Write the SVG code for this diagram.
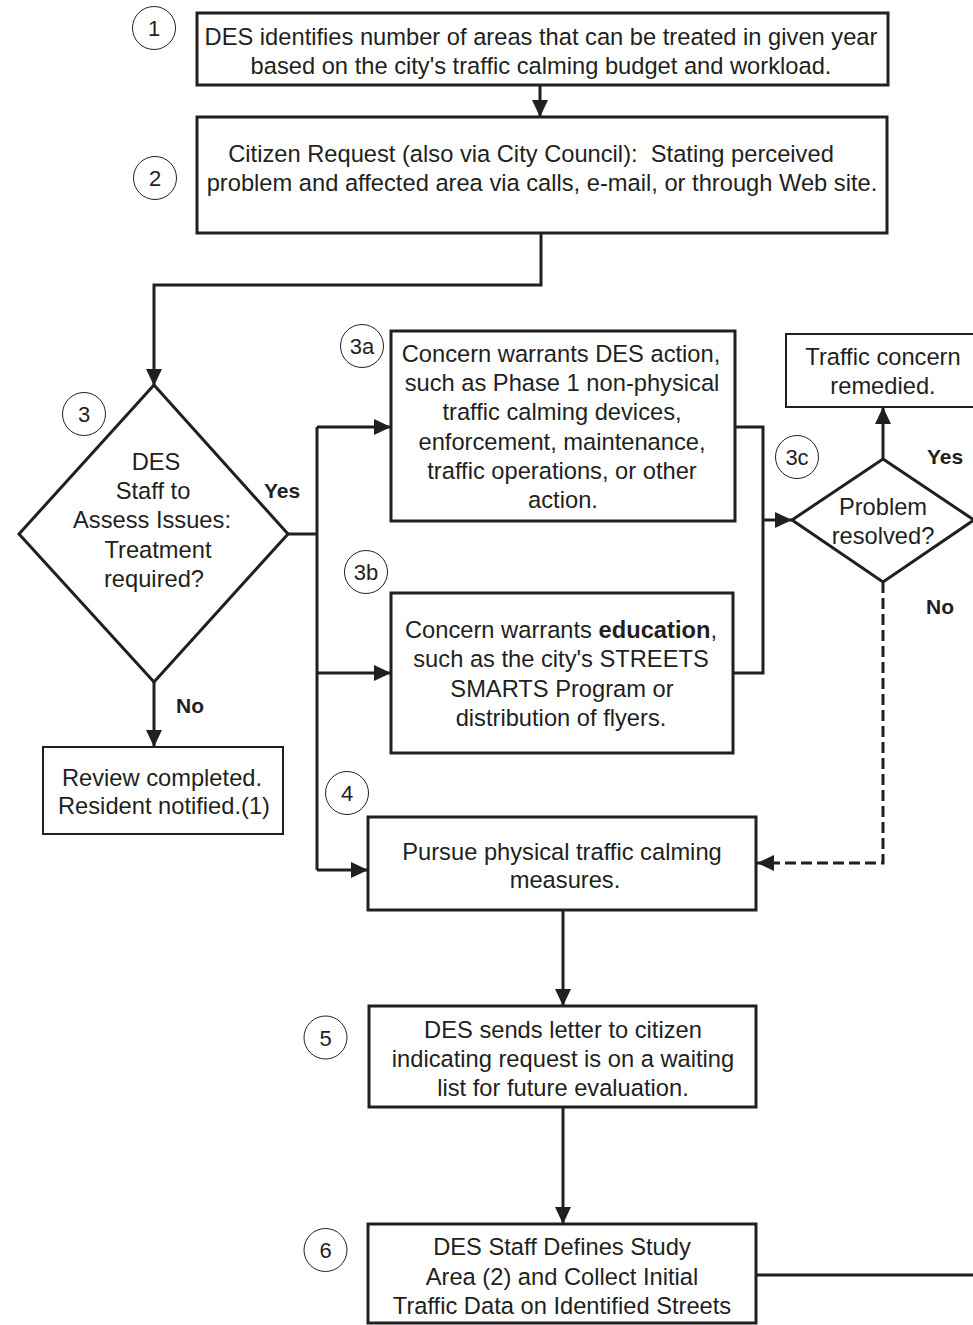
<svg xmlns="http://www.w3.org/2000/svg" width="973" height="1325" viewBox="0 0 973 1325">
<style>
  .box { fill: #ffffff; stroke: #231f20; stroke-width: 3; }
  .thin { fill: #ffffff; stroke: #231f20; stroke-width: 2; }
  .dia { fill: #ffffff; stroke: #231f20; stroke-width: 3; }
  .num { fill: none; stroke: #231f20; stroke-width: 1; }
  .t { font-family: "Liberation Sans", Arial, sans-serif; font-size: 23.7px; fill: #231f20; text-anchor: middle; }
  .n { font-family: "Liberation Sans", Arial, sans-serif; font-size: 22px; fill: #231f20; text-anchor: middle; }
  .b { font-family: "Liberation Sans", Arial, sans-serif; font-size: 21px; font-weight: bold; fill: #231f20; text-anchor: middle; }
  .c { fill: none; stroke: #231f20; stroke-width: 3; }
  .a { fill: none; stroke: #231f20; stroke-width: 3; marker-end: url(#ah); }
  .d { fill: none; stroke: #231f20; stroke-width: 3; stroke-dasharray: 11 5; marker-end: url(#ah); }
</style>
<defs>
  <marker id="ah" markerUnits="userSpaceOnUse" markerWidth="18" markerHeight="16" refX="17" refY="8" orient="auto">
    <path d="M0,0 L17,8 L0,16 z" fill="#231f20"/>
  </marker>
</defs>
<rect width="973" height="1325" fill="#ffffff"/>

<g id="connectors">
  <path class="a" d="M540,85 V117"/>
  <path class="a" d="M541,233 V285 H154 V386"/>
  <path class="c" d="M288,534 H317"/>
  <path class="c" d="M317,427 V870"/>
  <path class="a" d="M317,427 H391"/>
  <path class="a" d="M317,673 H391"/>
  <path class="a" d="M317,870 H368"/>
  <path class="c" d="M735,427 H763 V673 H733"/>
  <path class="a" d="M763,520 H792"/>
  <path class="a" d="M883,459 V407"/>
  <path class="d" d="M883,582 V863 H757"/>
  <path class="a" d="M154,682 V747"/>
  <path class="a" d="M563,910 V1006"/>
  <path class="a" d="M563,1107 V1224"/>
  <path class="c" d="M756,1275 H973"/>
</g>

<g id="node1">
  <circle class="num" cx="154" cy="28" r="21.5"/>
  <text class="n" x="154" y="36">1</text>
  <rect class="box" x="197" y="13" width="691" height="72"/>
  <text class="t" x="541" y="45">DES identifies number of areas that can be treated in given year</text>
  <text class="t" x="541" y="74">based on the city's traffic calming budget and workload.</text>
</g>

<g id="node2">
  <circle class="num" cx="155" cy="178" r="21.5"/>
  <text class="n" x="155" y="186">2</text>
  <rect class="box" x="197" y="117" width="690" height="116"/>
  <text class="t" x="531" y="162" xml:space="preserve">Citizen Request (also via City Council):  Stating perceived</text>
  <text class="t" x="542" y="191">problem and affected area via calls, e-mail, or through Web site.</text>
</g>

<g id="node3">
  <circle class="num" cx="84" cy="414" r="21.5"/>
  <text class="n" x="84" y="422">3</text>
  <polygon class="dia" points="154,385 288,534 154,682 19,534"/>
  <text class="t" x="156" y="470">DES</text>
  <text class="t" x="153" y="499">Staff to</text>
  <text class="t" x="152" y="528">Assess Issues:</text>
  <text class="t" x="158" y="558">Treatment</text>
  <text class="t" x="154" y="587">required?</text>
  <text class="b" x="282" y="498">Yes</text>
  <text class="b" x="190" y="713">No</text>
</g>

<g id="node3a">
  <circle class="num" cx="362" cy="346" r="21.5"/>
  <text class="n" x="362" y="354">3a</text>
  <rect class="box" x="391" y="331" width="344" height="190"/>
  <text class="t" x="561" y="362">Concern warrants DES action,</text>
  <text class="t" x="562" y="391">such as Phase 1 non-physical</text>
  <text class="t" x="562" y="420">traffic calming devices,</text>
  <text class="t" x="562" y="450">enforcement, maintenance,</text>
  <text class="t" x="562" y="479">traffic operations, or other</text>
  <text class="t" x="563" y="508">action.</text>
</g>

<g id="node3b">
  <circle class="num" cx="366" cy="572" r="21.5"/>
  <text class="n" x="366" y="580">3b</text>
  <rect class="box" x="391" y="593" width="342" height="160"/>
  <text class="t" x="561" y="638">Concern warrants <tspan font-weight="bold">education</tspan>,</text>
  <text class="t" x="561" y="667">such as the city's STREETS</text>
  <text class="t" x="562" y="697">SMARTS Program or</text>
  <text class="t" x="561" y="726">distribution of flyers.</text>
</g>

<g id="node3c">
  <circle class="num" cx="797" cy="457" r="21.5"/>
  <text class="n" x="797" y="465">3c</text>
  <polygon class="dia" points="883,459 974,520 883,582 792,520"/>
  <text class="t" x="883" y="515">Problem</text>
  <text class="t" x="883" y="544">resolved?</text>
  <text class="b" x="945" y="464">Yes</text>
  <text class="b" x="940" y="614">No</text>
</g>

<g id="nodeRemedied">
  <rect class="thin" x="786" y="334" width="188" height="73"/>
  <text class="t" x="883" y="365">Traffic concern</text>
  <text class="t" x="883" y="394">remedied.</text>
</g>

<g id="nodeReview">
  <rect class="thin" x="43" y="747" width="240" height="87"/>
  <text class="t" x="162" y="786">Review completed.</text>
  <text class="t" x="164" y="814">Resident notified.(1)</text>
</g>

<g id="node4">
  <circle class="num" cx="347" cy="793" r="21.5"/>
  <text class="n" x="347" y="801">4</text>
  <rect class="box" x="368" y="817" width="388" height="93"/>
  <text class="t" x="562" y="860">Pursue physical traffic calming</text>
  <text class="t" x="565" y="888">measures.</text>
</g>

<g id="node5">
  <circle class="num" cx="325.5" cy="1037.5" r="21.5"/>
  <text class="n" x="325.5" y="1045.5">5</text>
  <rect class="box" x="369" y="1006" width="387" height="101"/>
  <text class="t" x="563" y="1038">DES sends letter to citizen</text>
  <text class="t" x="563" y="1067">indicating request is on a waiting</text>
  <text class="t" x="563" y="1096">list for future evaluation.</text>
</g>

<g id="node6">
  <circle class="num" cx="325.5" cy="1250" r="21.5"/>
  <text class="n" x="325.5" y="1258">6</text>
  <rect class="box" x="368" y="1224" width="388" height="99"/>
  <text class="t" x="562" y="1255">DES Staff Defines Study</text>
  <text class="t" x="562" y="1285">Area (2) and Collect Initial</text>
  <text class="t" x="562" y="1314">Traffic Data on Identified Streets</text>
</g>
</svg>
